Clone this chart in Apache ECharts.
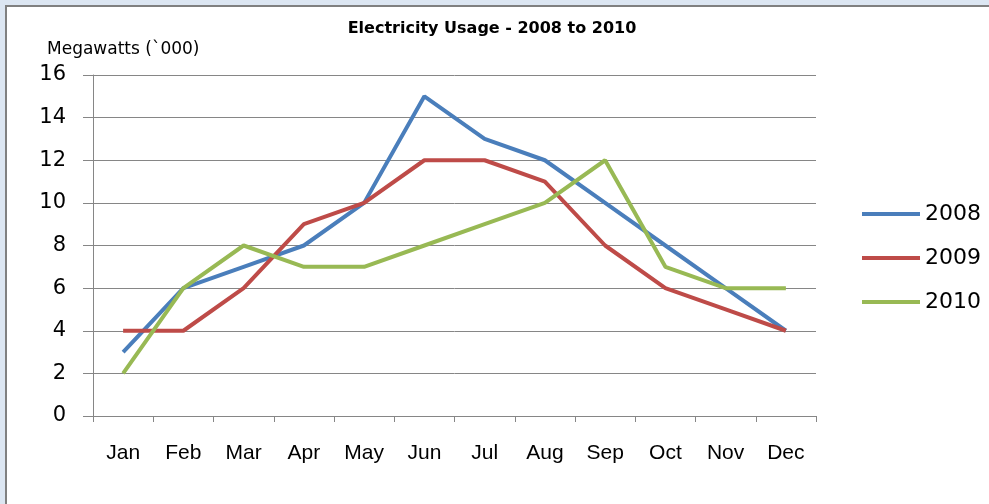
<!DOCTYPE html>
<html>
<head>
<meta charset="utf-8">
<script src="https://cdn.jsdelivr.net/npm/echarts@6/dist/echarts.min.js"></script>
<style>
  html, body { margin: 0; padding: 0; width: 989px; height: 504px; background: #dce6f2; overflow: hidden; }
  #frame { position: absolute; left: 5px; top: 5px; width: 984px; height: 499px; border-left: 2px solid #808080; border-top: 2px solid #808080; background: #fff; }
  #chart { position: absolute; left: -7px; top: -7px; width: 989px; height: 504px; }
</style>
</head>
<body>
<div id="frame"><div id="chart"></div></div>
<script>
// data
var months = ["Jan", "Feb", "Mar", "Apr", "May", "Jun", "Jul", "Aug", "Sep", "Oct", "Nov", "Dec"];
var usage2008 = [3, 6, 7, 8, 10, 15, 13, 12, 10, 8, 6, 4];
var usage2009 = [4, 4, 6, 9, 10, 12, 12, 11, 8, 6, 5, 4];
var usage2010 = [2, 6, 8, 7, 7, 8, 9, 10, 12, 7, 6, 6];

var gridColor = "#868686";

function lineSeries(name, data, color) {
  return {
    name: name,
    type: "line",
    data: data,
    symbol: "none",
    color: color,
    lineStyle: { width: 4, color: color },
    emphasis: { disabled: true }
  };
}

var chart = echarts.init(document.getElementById("chart"));
chart.setOption({
  backgroundColor: "transparent",
  animation: false,
  title: [{
    text: "Electricity Usage - 2008 to 2010",
    left: 487,
    textAlign: "center",
    top: 16,
    textStyle: { fontFamily: "DejaVu Sans", fontWeight: "bold", fontSize: 16, color: "#000" }
  }, {
    text: "Megawatts (`000)",
    left: 42,
    top: 36,
    textStyle: { fontFamily: "DejaVu Sans", fontWeight: "normal", fontSize: 17, color: "#000" }
  }],
  legend: {
    orient: "vertical",
    left: 857,
    top: 198,
    icon: "rect",
    itemWidth: 58,
    itemHeight: 4,
    itemGap: 22,
    textStyle: { fontFamily: "DejaVu Sans", fontSize: 22, color: "#000" },
    data: ["2008", "2009", "2010"]
  },
  grid: { left: 93, right: 173, top: 75, bottom: 88, containLabel: false },
  xAxis: {
    type: "category",
    data: months,
    boundaryGap: true,
    axisLine: { lineStyle: { color: gridColor, width: 1 } },
    axisTick: { show: true, length: 6, lineStyle: { color: gridColor } },
    axisLabel: { margin: 27, fontFamily: "Liberation Sans Narrow, Liberation Sans", fontSize: 21, color: "#000" }
  },
  yAxis: {
    type: "value",
    min: 0,
    max: 16,
    interval: 2,
    axisLine: { show: true, lineStyle: { color: gridColor, width: 1 } },
    axisTick: { show: true, length: 10, lineStyle: { color: gridColor } },
    splitLine: { show: true, lineStyle: { color: gridColor, width: 1 } },
    axisLabel: { margin: 27, fontFamily: "DejaVu Sans", fontSize: 21, color: "#000" }
  },
  series: [
    lineSeries("2008", usage2008, "#4a7ebb"),
    lineSeries("2009", usage2009, "#be4b48"),
    lineSeries("2010", usage2010, "#98b954")
  ]
});
</script>
</body>
</html>
